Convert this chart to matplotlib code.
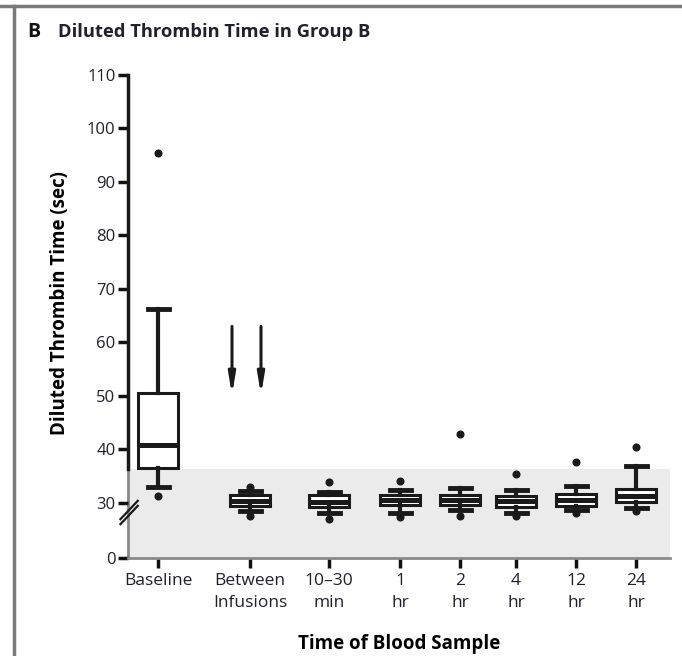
import numpy as np
import matplotlib
matplotlib.use('Agg')
import matplotlib.pyplot as plt
from matplotlib.lines import Line2D

plt.rcParams.update({
    'font.family': ['Open Sans', 'DejaVu Sans'],
    'font.size': 11,
    'text.color': '#20202e',
    'xtick.color': '#111111',
    'ytick.color': '#111111',
    'xtick.labelcolor': '#20202e',
    'ytick.labelcolor': '#20202e',
})

# sampling times and summary statistics (sec)
categories = ['Baseline', 'Between\nInfusions', '10\u201330\nmin', '1\nhr', '2\nhr', '4\nhr', '12\nhr', '24\nhr']
medians = [40.9, 30.4, 30.2, 30.6, 30.6, 30.4, 30.6, 31.2]
q1 = [36.5, 29.4, 29.3, 29.6, 29.6, 29.3, 29.4, 30.1]
q3 = [50.6, 31.5, 31.4, 31.5, 31.4, 31.3, 31.6, 32.6]
whisk_lo = [33.0, 28.5, 28.2, 28.2, 28.7, 28.2, 28.7, 29.0]
whisk_hi = [66.2, 32.3, 32.1, 32.4, 32.7, 32.4, 33.2, 36.9]
fliers = [[95.5, 31.3], [33.0, 27.6], [34.0, 27.0], [34.1, 27.4],
          [42.8, 27.6], [35.4, 27.6], [37.6, 28.2], [40.5, 28.4]]

shade_top = 36.3          # upper end of the shaded reference band
arrow_top, arrow_tip = 63.0, 50.1
y_ticks = [0, 30, 40, 50, 60, 70, 80, 90, 100, 110]

# axis is broken below 30: 0 is drawn just under the break
ZERO_POS = 19.7
positions = [30, 122, 201, 272, 332, 388, 448, 508]
arrow_x = [104, 133]

fig = plt.figure(figsize=(6.82, 6.56), dpi=100)
ax = fig.add_axes([128 / 682, 1 - 558 / 656, 542 / 682, 483 / 656])

# frame lines of the panel
fig.add_artist(Line2D([0, 1], [1 - 6 / 656, 1 - 6 / 656], color='#7a7a7a', lw=2.5,
                      transform=fig.transFigure))
fig.add_artist(Line2D([14 / 682, 14 / 682], [0, 1 - 6 / 656], color='#7a7a7a', lw=2.5,
                      transform=fig.transFigure))

ax.axhspan(ZERO_POS, shade_top, color='#ebebeb', zorder=0, lw=0)

stats = []
for i in range(len(categories)):
    stats.append(dict(med=medians[i], q1=q1[i], q3=q3[i],
                      whislo=whisk_lo[i], whishi=whisk_hi[i],
                      fliers=fliers[i]))

ax.bxp(stats, positions=positions, widths=40, patch_artist=True,
       boxprops=dict(facecolor='white', edgecolor='#1a1a1a', lw=2.2),
       medianprops=dict(color='#1a1a1a', lw=3.6, solid_capstyle='butt'),
       whiskerprops=dict(color='#1a1a1a', lw=3),
       capprops=dict(color='#1a1a1a', lw=3.5),
       capwidths=21,
       flierprops=dict(marker='o', markersize=4.8, markerfacecolor='#1a1a1a',
                       markeredgecolor='#1a1a1a'),
       zorder=3)

for xa in arrow_x:
    ax.annotate('', xy=(xa, arrow_tip), xytext=(xa, arrow_top),
                arrowprops=dict(arrowstyle='-|>,head_length=1.1,head_width=0.18',
                                color='#1a1a1a', lw=2.2, shrinkA=0, shrinkB=0))

ax.set_xlim(0, 542)
ax.set_ylim(ZERO_POS, 110)
ax.set_xticks(positions)
ax.set_xticklabels(categories, fontsize=12.5, linespacing=1.5)
ax.set_yticks([ZERO_POS] + y_ticks[1:])
ax.set_yticklabels([str(v) for v in y_ticks], fontsize=12)
ax.tick_params(axis='both', direction='out', length=7, width=2.5, pad=2)
ax.tick_params(axis='x', pad=4)

for s in ['top', 'right']:
    ax.spines[s].set_visible(False)
ax.spines['left'].set_bounds(shade_top, 110)
ax.spines['left'].set_color('#1a1a1a')
ax.spines['left'].set_linewidth(2.5)
ax.spines['bottom'].set_color('#8a8a8a')
ax.spines['bottom'].set_linewidth(2)
ax.plot([0, 0], [ZERO_POS, shade_top], color='#8a8a8a', lw=2, clip_on=False, zorder=1)

# break marks on the y axis
for dy in (0, 5):
    ax.plot([-0.014, 0.018], [0.07 + dy / 483, 0.108 + dy / 483], transform=ax.transAxes,
            color='#1a1a1a', lw=1.6, clip_on=False, zorder=5)

ax.set_ylabel('Diluted Thrombin Time (sec)', fontsize=13.5, fontweight='bold')
ax.yaxis.set_label_coords(-0.107, 0.527)
ax.set_xlabel('Time of Blood Sample', fontsize=13.5, fontweight='bold', labelpad=16)

fig.text(27 / 682, 1 - 32 / 656, 'B', fontsize=14, fontweight='bold', va='center', color='#111111')
fig.text(58 / 682, 1 - 32 / 656, 'Diluted Thrombin Time in Group B', fontsize=13.2,
         fontweight='bold', va='center', color='#20202e')

fig.savefig('out.png', dpi=100, facecolor='white')
